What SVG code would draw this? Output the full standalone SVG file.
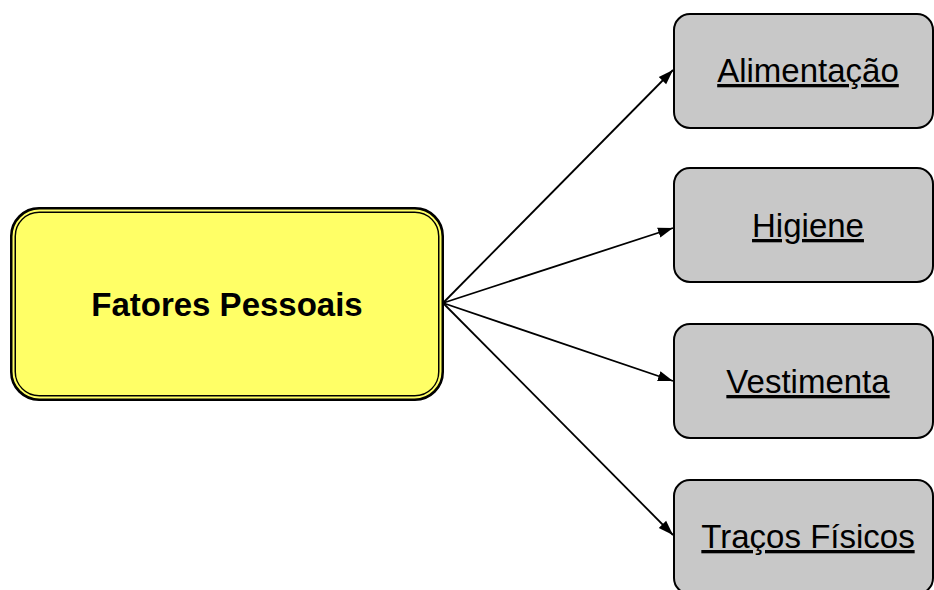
<svg xmlns="http://www.w3.org/2000/svg" width="934" height="590" viewBox="0 0 934 590">
  <style>
    .label { font-family: "Liberation Sans", Arial, sans-serif; font-size: 33px; fill: #000; text-anchor: middle; }
    .main { font-weight: bold; }
    .leaf { text-decoration: underline; }
    .leafbox { fill: #C8C8C8; stroke: #000; stroke-width: 2; }
    .conn { stroke: #000; stroke-width: 1.8; fill: none; marker-end: url(#head); }
  </style>
  <defs>
    <marker id="head" markerUnits="userSpaceOnUse" markerWidth="16" markerHeight="12" refX="15" refY="6" orient="auto">
      <path d="M0,0.8 L15,6 L0,11.2 Z" fill="#000"/>
    </marker>
  </defs>
  <rect width="934" height="590" fill="#fff"/>

  <!-- central node with double border -->
  <g id="fatores-pessoais">
    <rect x="13" y="210" width="428" height="188" rx="26" ry="26" fill="#FFFF66" stroke="#000" stroke-width="6"/>
    <rect x="13.5" y="210.5" width="427" height="187" rx="26" ry="26" fill="none" stroke="#FFFF66" stroke-width="2"/>
    <text class="label main" x="227" y="316">Fatores Pessoais</text>
  </g>

  <!-- connectors -->
  <g id="connectors">
    <line class="conn" x1="443" y1="303" x2="673" y2="70"/>
    <line class="conn" x1="443" y1="303" x2="673" y2="228"/>
    <line class="conn" x1="443" y1="303" x2="673" y2="381"/>
    <line class="conn" x1="443" y1="303" x2="673" y2="535"/>
  </g>

  <g id="alimentacao">
    <rect class="leafbox" x="674" y="14" width="259" height="114" rx="16" ry="16"/>
    <text class="label leaf" x="808" y="82">Alimentação</text>
  </g>
  <g id="higiene">
    <rect class="leafbox" x="674" y="168" width="259" height="114" rx="16" ry="16"/>
    <text class="label leaf" x="808" y="237">Higiene</text>
  </g>
  <g id="vestimenta">
    <rect class="leafbox" x="674" y="324" width="259" height="114" rx="16" ry="16"/>
    <text class="label leaf" x="808" y="393">Vestimenta</text>
  </g>
  <g id="tracos-fisicos">
    <rect class="leafbox" x="674" y="480" width="259" height="114" rx="16" ry="16"/>
    <text class="label leaf" x="808" y="548">Traços Físicos</text>
  </g>
</svg>
